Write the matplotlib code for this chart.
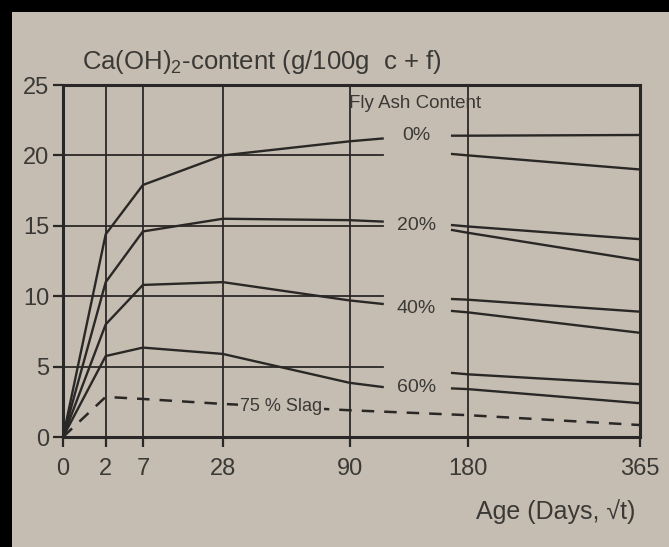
import numpy as np
import matplotlib.pyplot as plt
from matplotlib.patches import Rectangle

plt.rcParams['font.family'] = ['Liberation Sans', 'DejaVu Sans']
plt.rcParams['mathtext.fontset'] = 'custom'
plt.rcParams['mathtext.rm'] = 'Liberation Sans'
plt.rcParams['mathtext.it'] = 'Liberation Sans'

# early ages: Ca(OH)2 content (g/100g c+f) against age in days
days_early = [0, 2, 7, 28, 90, 112]
caoh_0 = [0, 14.4, 17.9, 20.0, 21.0, 21.2]
caoh_20 = [0, 11.0, 14.6, 15.5, 15.4, 15.3]
caoh_40 = [0, 8.0, 10.8, 11.0, 9.7, 9.45]
caoh_60 = [0, 5.75, 6.35, 5.9, 3.85, 3.55]

# later ages, two mixes for each fly ash level
days_late = [166, 180, 365]
late_0 = ([21.4, 21.4, 21.45], [20.1, 20.0, 19.0])
late_20 = ([15.05, 14.95, 14.05], [14.7, 14.5, 12.55])
late_40 = ([9.8, 9.75, 8.9], [8.95, 8.85, 7.4])
late_60 = ([4.55, 4.45, 3.75], [3.45, 3.4, 2.4])

slag_days = [0, 2, 7, 28, 90, 180, 365]
slag_caoh = [0, 2.85, 2.7, 2.35, 1.9, 1.55, 0.85]

fly_ash_labels = ['0%', '20%', '40%', '60%']
fly_ash_label_y = [21.4, 15.05, 9.15, 3.55]

x_ticks = [0, 2, 7, 28, 90, 180, 365]
y_ticks = [0, 5, 10, 15, 20, 25]
grid_days = [2, 7, 28, 90, 180]
grid_caoh = [5, 10, 15, 20]
grid_end = 112

paper = '#c5bdb1'
ink = '#2a2826'
text_ink = '#3b3936'

fig = plt.figure(figsize=(6.69, 5.47), dpi=100, facecolor=paper)
ax = fig.add_axes([63 / 669, 110 / 547, 577 / 669, 352 / 547], facecolor=paper)
ax.set_xscale('function', functions=(lambda d: np.sqrt(np.clip(d, 0, None)), np.square))
ax.set_xlim(0, 365)
ax.set_ylim(0, 25)

for d in grid_days:
    ax.axvline(d, color=ink, lw=1.3, zorder=1)
for v in grid_caoh:
    ax.plot([0, grid_end], [v, v], color=ink, lw=1.3, zorder=1)

lw = 1.7
for curve in (caoh_0, caoh_20, caoh_40, caoh_60):
    ax.plot(days_early, curve, color=ink, lw=lw)
for pair in (late_0, late_20, late_40, late_60):
    for series in pair:
        ax.plot(days_late, series, color=ink, lw=lw)

ax.plot(slag_days, slag_caoh, color=ink, lw=1.8, linestyle=(0, (5, 4)))
ax.text(52, 2.2, '75 % Slag', fontsize=13, color=text_ink, ha='center', va='center',
        bbox=dict(facecolor=paper, edgecolor='none', pad=1.5), zorder=5)

ax.text(136, 23.7, 'Fly Ash Content', fontsize=13.5, color=text_ink, ha='center', va='center')
for lab, y in zip(fly_ash_labels, fly_ash_label_y):
    ax.text(137, y, lab, fontsize=14, color=text_ink, ha='center', va='center')

for side in ax.spines.values():
    side.set_linewidth(2.2)
    side.set_color(ink)

ax.set_xticks(x_ticks)
ax.set_xticklabels([str(t) for t in x_ticks])
ax.set_yticks(y_ticks)
ax.set_yticklabels([str(t) for t in y_ticks])
ax.tick_params(axis='both', direction='out', length=7, width=1.6, color=ink,
               labelcolor=text_ink, labelsize=17)
ax.tick_params(axis='x', pad=8)
ax.tick_params(axis='y', pad=3)
ax.minorticks_off()

fig.text(82 / 669, 1 - 62 / 547, r'Ca(OH)$_2$-content (g/100g  c + f)', fontsize=18.5,
         color=text_ink, ha='left', va='center')
fig.text(556 / 669, 1 - 512 / 547, 'Age (Days, √t)', fontsize=18,
         color=text_ink, ha='center', va='center')

fig.patches.append(Rectangle((0, 0), 12 / 669, 1, transform=fig.transFigure,
                             facecolor='black', edgecolor='none'))
fig.patches.append(Rectangle((0, 1 - 12 / 547), 1, 12 / 547, transform=fig.transFigure,
                             facecolor='black', edgecolor='none'))

fig.savefig('out.png', dpi=100, facecolor=paper)
